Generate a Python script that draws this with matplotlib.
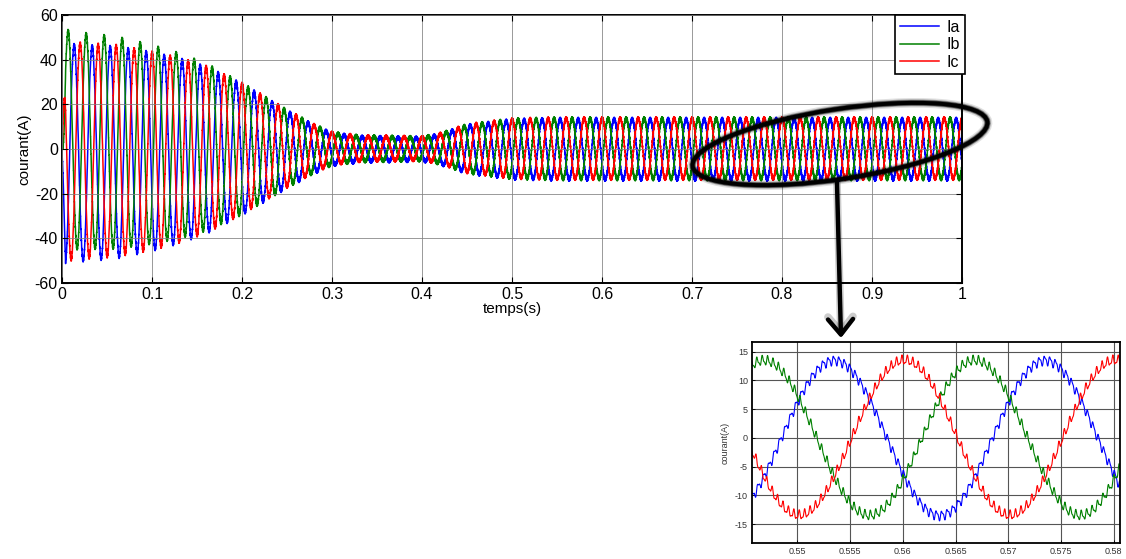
import numpy as np
import matplotlib
matplotlib.use("Agg")
import matplotlib.pyplot as plt
from matplotlib.patches import Ellipse, FancyArrowPatch

plt.rcParams['font.family'] = ['Liberation Sans Narrow', 'Liberation Sans', 'DejaVu Sans']
plt.rcParams['axes.unicode_minus'] = False

# ---------------- data ----------------
series_names = ["Ia", "Ib", "Ic"]
series_colors = ["#0000FF", "#008000", "#FF0000"]
freq_hz = 50.0
# time of the rising zero crossing of Ia (s), and phase lag of each series (fraction of period)
ia_zero_cross = 0.0085
phase_lag = [0.0, 2.0 / 3.0, 1.0 / 3.0]

# amplitude envelope of the fundamental (A)
env_t = [0.0, 0.004, 0.02, 0.06, 0.10, 0.13, 0.16, 0.20, 0.25, 0.28, 0.30, 0.33,
         0.40, 0.42, 0.45, 0.50, 0.55, 0.60, 1.00]
env_a = [0.0, 49.0, 48.0, 47.0, 44.0, 41.0, 37.0, 29.0, 17.0, 10.5, 7.0, 5.5,
         5.0, 6.5, 10.5, 13.0, 13.5, 13.5, 13.5]

# DC offsets during start-up (A), per series
off_t = [0.0, 0.10, 0.20]
off_a = {"Ia": [-2.0, -1.0, 0.0], "Ib": [4.0, 2.0, 0.0], "Ic": [-1.0, -1.0, 0.0]}

# switching ripple
ripple_amp = [0.7, 0.3]
ripple_hz = [1950.0, 3900.0]

main_xticks = [0, 0.1, 0.2, 0.3, 0.4, 0.5, 0.6, 0.7, 0.8, 0.9, 1.0]
main_xticklabels = ["0", "0.1", "0.2", "0.3", "0.4", "0.5", "0.6", "0.7", "0.8", "0.9", "1"]
main_yticks = [-60, -40, -20, 0, 20, 40, 60]
inset_xticks = [0.55, 0.555, 0.56, 0.565, 0.57, 0.575, 0.58]
inset_xticklabels = ["0.55", "0.555", "0.56", "0.565", "0.57", "0.575", "0.58"]
inset_yticks = [-15, -10, -5, 0, 5, 10, 15]

# ---------------- build waveforms ----------------
t = np.arange(0, 1.0 + 1e-9, 1.0 / 40000.0)
env = np.interp(t, env_t, env_a)
waves = {}
for k, name in enumerate(series_names):
    ph = 2 * np.pi * freq_hz * (t - ia_zero_cross) - 2 * np.pi * phase_lag[k]
    rip = sum(a * np.sin(2 * np.pi * f * t + 1.3 * k + 0.7 * j)
              for j, (a, f) in enumerate(zip(ripple_amp, ripple_hz)))
    rip = rip * np.minimum(1.0, env / 5.0 + 0.3)
    waves[name] = env * np.sin(ph) + np.interp(t, off_t, off_a[name]) + rip

# ---------------- figure ----------------
W, H = 1126, 559
fig = plt.figure(figsize=(W / 100, H / 100), dpi=100)

def ax_rect(x0, y0, x1, y1):
    return [x0 / W, 1 - y1 / H, (x1 - x0) / W, (y1 - y0) / H]

ax = fig.add_axes(ax_rect(62, 15, 962, 283))
for name, c in zip(series_names, series_colors):
    ax.plot(t, waves[name], color=c, lw=1.1, label=name)
ax.set_xlim(0, 1)
ax.set_ylim(-60, 60)
ax.set_xticks(main_xticks)
ax.set_xticklabels(main_xticklabels)
ax.set_yticks(main_yticks)
ax.tick_params(direction='in', top=True, right=True, labelsize=11.5, length=4, width=0.8, pad=3)
ax.grid(True, color='#808080', lw=0.7, alpha=0.8)
ax.set_axisbelow(False)
for s in ax.spines.values():
    s.set_linewidth(1.4)
ax.set_xlabel("temps(s)", fontsize=11, labelpad=0)
ax.set_ylabel("courant(A)", fontsize=11, labelpad=2)
leg = ax.legend(loc='upper right', fontsize=11.5, frameon=True, fancybox=False,
                edgecolor='black', framealpha=1, borderaxespad=0, handlelength=2.4,
                labelspacing=0.15, borderpad=0.3, handletextpad=0.5,
                bbox_to_anchor=(1.003, 1.0))
leg.get_frame().set_linewidth(1.2)

# inset
axi = fig.add_axes(ax_rect(752, 342, 1120, 543))
m = (t >= 0.5455) & (t <= 0.5808)
for name, c in zip(series_names, series_colors):
    axi.plot(t[m], waves[name][m], color=c, lw=0.8)
axi.set_xlim(0.5457, 0.5806)
axi.set_ylim(-18.3, 16.7)
axi.set_xticks(inset_xticks)
axi.set_xticklabels(inset_xticklabels)
axi.set_yticks(inset_yticks)
axi.tick_params(direction='in', labelsize=6.5, length=2, width=0.6, pad=3, labelcolor='#333333')
axi.grid(True, color='#555555', lw=0.8)
for s in axi.spines.values():
    s.set_linewidth(1.3)
axi.set_ylabel("courant(A)", fontsize=6.5, color='#333333', labelpad=4)

# overlay: ellipse and arrow (pixel coordinates)
ov = fig.add_axes([0, 0, 1, 1])
ov.set_xlim(0, W)
ov.set_ylim(H, 0)
ov.axis('off')
ov.patch.set_alpha(0)
for lw, al in [(7, 0.12), (5, 0.3), (3.8, 0.6), (2.8, 1.0)]:
    ov.add_patch(Ellipse((840, 144), 298, 70, angle=-8.6, fill=False,
                         edgecolor='black', lw=lw, alpha=al))
for lw, al in [(5.5, 0.2), (3.2, 1.0)]:
    ov.add_patch(FancyArrowPatch((837, 183), (841, 338),
                                 arrowstyle='->,head_length=0.55,head_width=0.45',
                                 mutation_scale=20, color='black', lw=lw, alpha=al,
                                 shrinkA=0, shrinkB=0))

fig.savefig("out.png", dpi=100)
